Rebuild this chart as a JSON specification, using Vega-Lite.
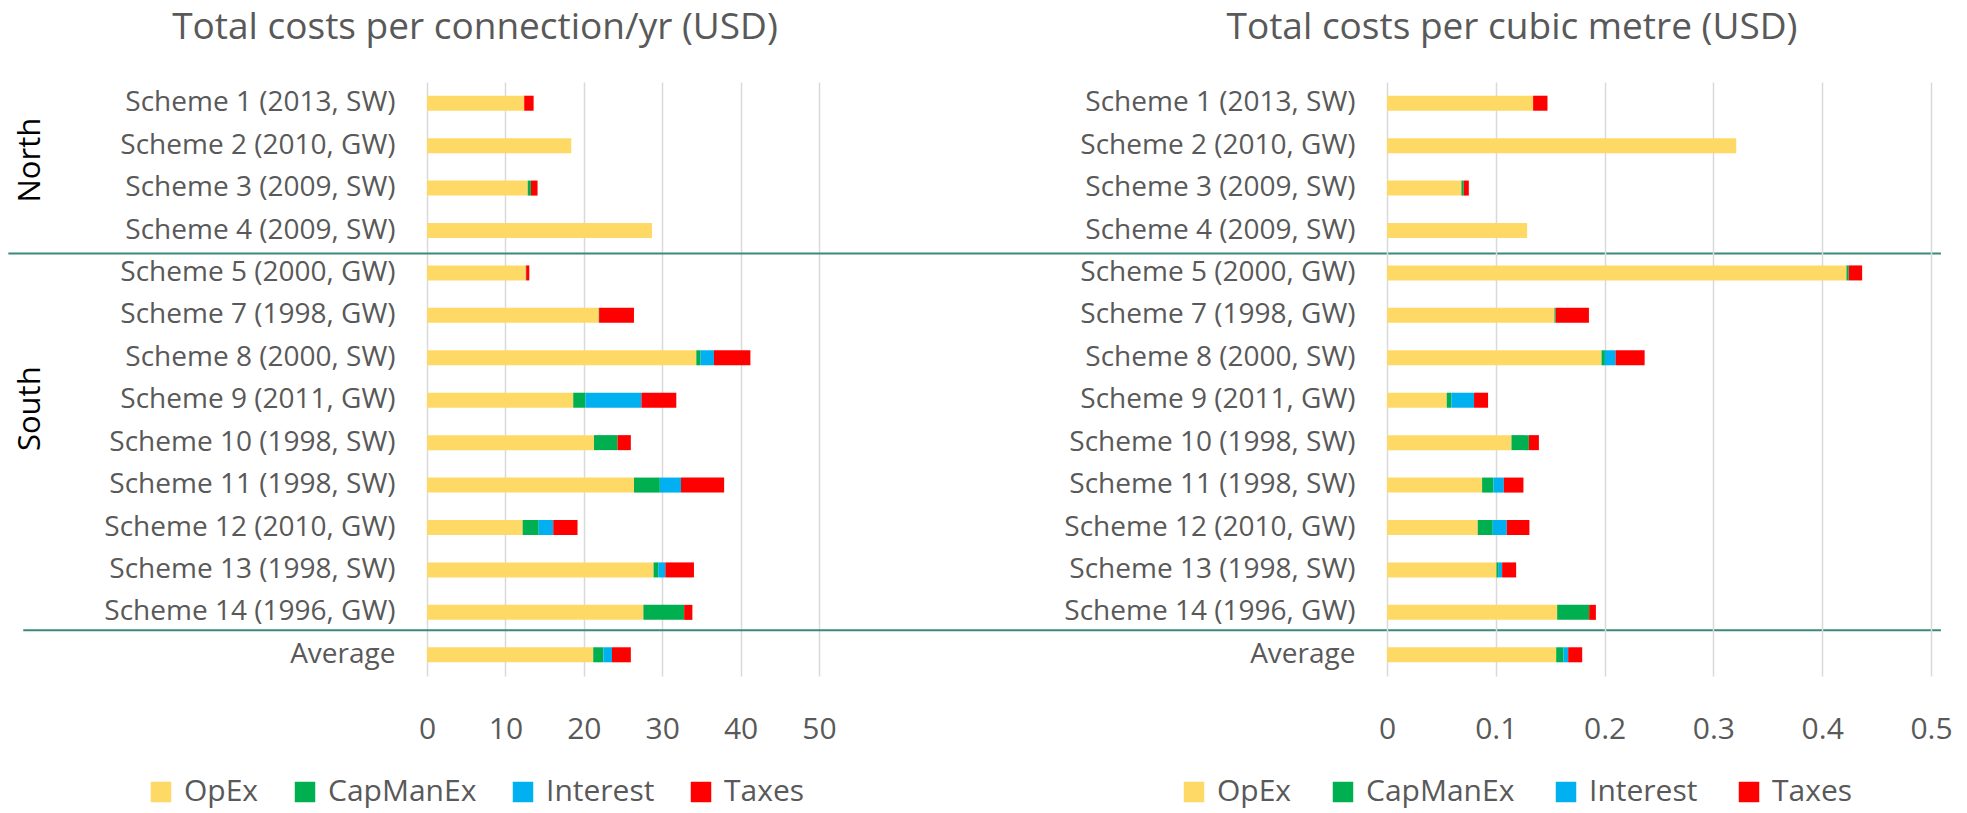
{
  "$schema": "https://vega.github.io/schema/vega-lite/v6.json",
  "background": "white",
  "padding": {"left": 7, "top": 9, "right": 17, "bottom": 5},
  "config": {
    "font": "Open Sans",
    "view": {"stroke": null},
    "axis": {"labelFont": "Open Sans", "labelColor": "#595959", "domain": false, "ticks": false, "tickSize": 0, "title": null},
    "title": {"font": "Open Sans", "fontSize": 37, "fontWeight": "normal", "color": "#595959", "offset": 35, "anchor": "middle", "frame": "group"}
  },
  "datasets": {
    "categories": [
      {"cost": "OpEx", "rank": 1},
      {"cost": "CapManEx", "rank": 2},
      {"cost": "Interest", "rank": 3},
      {"cost": "Taxes", "rank": 4}
    ],
    "costs": [
      {"scheme": "Scheme 1 (2013, SW)", "cost": "OpEx", "conn": 12.4, "m3": 0.1343},
      {"scheme": "Scheme 1 (2013, SW)", "cost": "Taxes", "conn": 1.2, "m3": 0.0132},
      {"scheme": "Scheme 2 (2010, GW)", "cost": "OpEx", "conn": 18.4, "m3": 0.321},
      {"scheme": "Scheme 3 (2009, SW)", "cost": "OpEx", "conn": 12.85, "m3": 0.0684},
      {"scheme": "Scheme 3 (2009, SW)", "cost": "CapManEx", "conn": 0.4, "m3": 0.0021},
      {"scheme": "Scheme 3 (2009, SW)", "cost": "Taxes", "conn": 0.85, "m3": 0.0047},
      {"scheme": "Scheme 4 (2009, SW)", "cost": "OpEx", "conn": 28.7, "m3": 0.1288},
      {"scheme": "Scheme 5 (2000, GW)", "cost": "OpEx", "conn": 12.6, "m3": 0.4223},
      {"scheme": "Scheme 5 (2000, GW)", "cost": "CapManEx", "conn": 0.05, "m3": 0.0021},
      {"scheme": "Scheme 5 (2000, GW)", "cost": "Taxes", "conn": 0.4, "m3": 0.0123},
      {"scheme": "Scheme 7 (1998, GW)", "cost": "OpEx", "conn": 21.9, "m3": 0.1539},
      {"scheme": "Scheme 7 (1998, GW)", "cost": "CapManEx", "conn": 0.05, "m3": 0.0011},
      {"scheme": "Scheme 7 (1998, GW)", "cost": "Taxes", "conn": 4.45, "m3": 0.0306},
      {"scheme": "Scheme 8 (2000, SW)", "cost": "OpEx", "conn": 34.35, "m3": 0.1972},
      {"scheme": "Scheme 8 (2000, SW)", "cost": "CapManEx", "conn": 0.55, "m3": 0.0031},
      {"scheme": "Scheme 8 (2000, SW)", "cost": "Interest", "conn": 1.7, "m3": 0.0098},
      {"scheme": "Scheme 8 (2000, SW)", "cost": "Taxes", "conn": 4.65, "m3": 0.0267},
      {"scheme": "Scheme 9 (2011, GW)", "cost": "OpEx", "conn": 18.65, "m3": 0.0549},
      {"scheme": "Scheme 9 (2011, GW)", "cost": "CapManEx", "conn": 1.55, "m3": 0.0043},
      {"scheme": "Scheme 9 (2011, GW)", "cost": "Interest", "conn": 7.15, "m3": 0.0208},
      {"scheme": "Scheme 9 (2011, GW)", "cost": "Taxes", "conn": 4.45, "m3": 0.0129},
      {"scheme": "Scheme 10 (1998, SW)", "cost": "OpEx", "conn": 21.3, "m3": 0.1144},
      {"scheme": "Scheme 10 (1998, SW)", "cost": "CapManEx", "conn": 3.0, "m3": 0.016},
      {"scheme": "Scheme 10 (1998, SW)", "cost": "Taxes", "conn": 1.7, "m3": 0.0092},
      {"scheme": "Scheme 11 (1998, SW)", "cost": "OpEx", "conn": 26.4, "m3": 0.0874},
      {"scheme": "Scheme 11 (1998, SW)", "cost": "CapManEx", "conn": 3.3, "m3": 0.0104},
      {"scheme": "Scheme 11 (1998, SW)", "cost": "Interest", "conn": 2.7, "m3": 0.0096},
      {"scheme": "Scheme 11 (1998, SW)", "cost": "Taxes", "conn": 5.5, "m3": 0.018},
      {"scheme": "Scheme 12 (2010, GW)", "cost": "OpEx", "conn": 12.2, "m3": 0.0834},
      {"scheme": "Scheme 12 (2010, GW)", "cost": "CapManEx", "conn": 2.05, "m3": 0.0138},
      {"scheme": "Scheme 12 (2010, GW)", "cost": "Interest", "conn": 1.85, "m3": 0.0129},
      {"scheme": "Scheme 12 (2010, GW)", "cost": "Taxes", "conn": 3.1, "m3": 0.0208},
      {"scheme": "Scheme 13 (1998, SW)", "cost": "OpEx", "conn": 28.9, "m3": 0.1006},
      {"scheme": "Scheme 13 (1998, SW)", "cost": "CapManEx", "conn": 0.6, "m3": 0.0021},
      {"scheme": "Scheme 13 (1998, SW)", "cost": "Interest", "conn": 0.9, "m3": 0.0031},
      {"scheme": "Scheme 13 (1998, SW)", "cost": "Taxes", "conn": 3.65, "m3": 0.0129},
      {"scheme": "Scheme 14 (1996, GW)", "cost": "OpEx", "conn": 27.6, "m3": 0.1564},
      {"scheme": "Scheme 14 (1996, GW)", "cost": "CapManEx", "conn": 5.2, "m3": 0.0294},
      {"scheme": "Scheme 14 (1996, GW)", "cost": "Taxes", "conn": 1.05, "m3": 0.0062},
      {"scheme": "Average", "cost": "OpEx", "conn": 21.2, "m3": 0.1555},
      {"scheme": "Average", "cost": "CapManEx", "conn": 1.3, "m3": 0.0067},
      {"scheme": "Average", "cost": "Interest", "conn": 1.1, "m3": 0.0043},
      {"scheme": "Average", "cost": "Taxes", "conn": 2.4, "m3": 0.0129}
    ]
  },
  "bounds": "flush",
  "spacing": 568,
  "resolve": {"scale": {"color": "independent"}, "legend": {"color": "independent"}},
  "hconcat": [
    {
      "width": 392,
      "height": 594,
      "title": {"text": "Total costs per connection/yr (USD)", "dx": -148},
      "layer": [
        {
          "data": {"name": "costs"},
          "transform": [{"lookup": "cost", "from": {"data": {"name": "categories"}, "key": "cost", "fields": ["rank"]}}],
          "mark": {"type": "bar"},
          "encoding": {
            "y": {
              "field": "scheme", "type": "nominal",
              "scale": {"domain": ["Scheme 1 (2013, SW)", "Scheme 2 (2010, GW)", "Scheme 3 (2009, SW)", "Scheme 4 (2009, SW)", "Scheme 5 (2000, GW)", "Scheme 7 (1998, GW)", "Scheme 8 (2000, SW)", "Scheme 9 (2011, GW)", "Scheme 10 (1998, SW)", "Scheme 11 (1998, SW)", "Scheme 12 (2010, GW)", "Scheme 13 (1998, SW)", "Scheme 14 (1996, GW)", "Average"], "paddingInner": 0.646, "paddingOuter": 0.323},
              "axis": {"labelFontSize": 28, "labelPadding": 32, "labelLimit": 400, "grid": false}
            },
            "x": {
              "field": "conn", "type": "quantitative", "stack": "zero",
              "scale": {"domain": [0, 50], "nice": false},
              "axis": {"values": [0, 10, 20, 30, 40, 50], "grid": true, "gridColor": "#d9d9d9", "gridWidth": 1.5, "labelFontSize": 30, "labelPadding": 38, "labelFlush": false}
            },
            "order": {"field": "rank", "type": "quantitative", "sort": "ascending"},
            "color": {
              "field": "cost", "type": "nominal",
              "sort": ["OpEx", "CapManEx", "Interest", "Taxes"],
              "scale": {"domain": ["OpEx", "CapManEx", "Interest", "Taxes"], "range": ["#FFD966", "#00B050", "#00B0F0", "#FF0000"]},
              "legend": {"orient": "none", "legendX": -281, "legendY": 695, "direction": "horizontal", "columns": 4, "title": null, "symbolType": "square", "symbolSize": 420, "symbolStrokeWidth": 0, "symbolOpacity": 1, "labelFontSize": 30, "labelFont": "Open Sans", "labelColor": "#595959", "labelLimit": 300, "columnPadding": 31, "labelOffset": 8}
            }
          }
        },
        {
          "data": {"values": [{"divider": "North/South"}]},
          "mark": {"type": "rule", "color": "#3a8a7c", "strokeWidth": 2},
          "encoding": {
            "x": {"datum": -53.4},
            "x2": {"datum": 193.1},
            "y": {"datum": "Scheme 5 (2000, GW)", "type": "nominal"},
            "yOffset": {"value": -12}
          }
        },
        {
          "data": {"values": [{"divider": "South/Average"}]},
          "mark": {"type": "rule", "color": "#3a8a7c", "strokeWidth": 2},
          "encoding": {
            "x": {"datum": -51.5},
            "x2": {"datum": 193.1},
            "y": {"datum": "Average", "type": "nominal"},
            "yOffset": {"value": -17}
          }
        },
        {
          "data": {"values": [{"region": "North"}]},
          "mark": {"type": "text", "angle": 270, "align": "center", "baseline": "middle", "font": "Open Sans", "fontSize": 31, "color": "#000000"},
          "encoding": {
            "text": {"field": "region"},
            "x": {"datum": -50.5},
            "y": {"datum": "Scheme 2 (2010, GW)", "type": "nominal"},
            "yOffset": {"value": 22}
          }
        },
        {
          "data": {"values": [{"region": "South"}]},
          "mark": {"type": "text", "angle": 270, "align": "center", "baseline": "middle", "font": "Open Sans", "fontSize": 31, "color": "#000000"},
          "encoding": {
            "text": {"field": "region"},
            "x": {"datum": -50.5},
            "y": {"datum": "Scheme 9 (2011, GW)", "type": "nominal"},
            "yOffset": {"value": 16}
          }
        }
      ]
    },
    {
      "width": 544,
      "height": 594,
      "title": {"text": "Total costs per cubic metre (USD)", "dx": -147},
      "data": {"name": "costs"},
      "transform": [{"lookup": "cost", "from": {"data": {"name": "categories"}, "key": "cost", "fields": ["rank"]}}],
      "mark": {"type": "bar"},
      "encoding": {
        "y": {
          "field": "scheme", "type": "nominal",
          "scale": {"domain": ["Scheme 1 (2013, SW)", "Scheme 2 (2010, GW)", "Scheme 3 (2009, SW)", "Scheme 4 (2009, SW)", "Scheme 5 (2000, GW)", "Scheme 7 (1998, GW)", "Scheme 8 (2000, SW)", "Scheme 9 (2011, GW)", "Scheme 10 (1998, SW)", "Scheme 11 (1998, SW)", "Scheme 12 (2010, GW)", "Scheme 13 (1998, SW)", "Scheme 14 (1996, GW)", "Average"], "paddingInner": 0.646, "paddingOuter": 0.323},
          "axis": {"labelFontSize": 28, "labelPadding": 32, "labelLimit": 400, "grid": false}
        },
        "x": {
          "field": "m3", "type": "quantitative", "stack": "zero",
          "scale": {"domain": [0, 0.5], "nice": false},
          "axis": {"values": [0, 0.1, 0.2, 0.3, 0.4, 0.5], "format": ".1~f", "grid": true, "gridColor": "#d9d9d9", "gridWidth": 1.5, "labelFontSize": 30, "labelPadding": 38, "labelFlush": false}
        },
        "order": {"field": "rank", "type": "quantitative", "sort": "ascending"},
        "color": {
          "field": "cost", "type": "nominal",
          "sort": ["OpEx", "CapManEx", "Interest", "Taxes"],
          "scale": {"domain": ["OpEx", "CapManEx", "Interest", "Taxes"], "range": ["#FFD966", "#00B050", "#00B0F0", "#FF0000"]},
          "legend": {"orient": "none", "legendX": -208, "legendY": 695, "direction": "horizontal", "columns": 4, "title": null, "symbolType": "square", "symbolSize": 420, "symbolStrokeWidth": 0, "symbolOpacity": 1, "labelFontSize": 30, "labelFont": "Open Sans", "labelColor": "#595959", "labelLimit": 300, "columnPadding": 36, "labelOffset": 8}
        }
      }
    }
  ]
}
